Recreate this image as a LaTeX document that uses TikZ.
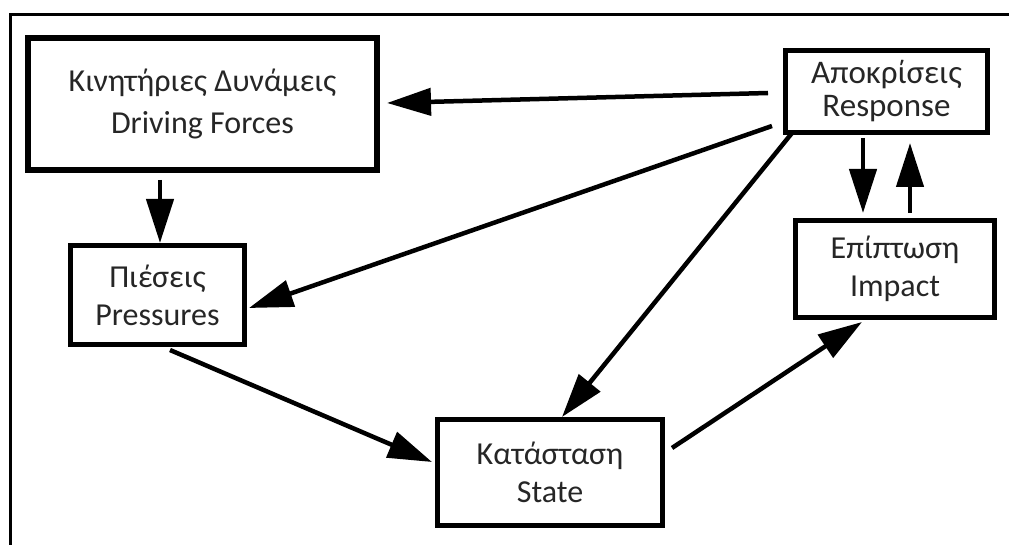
\documentclass[tikz,border=0pt]{standalone}
\usepackage{fontspec}
\setmainfont{Carlito}
\usetikzlibrary{arrows.meta,calc}
\tikzset{
    block/.style={draw=black, line width=5pt, align=center, inner sep=0pt,
                  text=black!85, font=\fontsize{32}{38}\selectfont},
    flow/.style={-{Triangle[length=44pt,width=27pt]}, line width=4.5pt},
}
\begin{document}
\begin{tikzpicture}[x=1pt, y=-1pt]
    \useasboundingbox (0, 0) rectangle (1009, 545);
    \draw [line width=3pt] (10, 560) -- (10, 15) -- (1020, 15);

    \draw (202.5, 104) node
          [block, line width=6pt, minimum width=349pt, minimum height=132pt,
           font=\fontsize{32}{42}\selectfont] (forces)
          {Κινητήριες Δυνάμεις\\ Driving Forces};
    \draw (157.5, 295) node
          [block, minimum width=174pt, minimum height=99pt] (pressures)
          {Πιέσεις\\ Pressures};
    \draw (886.5, 91.5) node
          [block, minimum width=202pt, minimum height=82pt,
           font=\fontsize{33}{33}\selectfont] (response)
          {Αποκρίσεις\\ Response};
    \draw (895, 269) node
          [block, minimum width=199pt, minimum height=97pt] (impact)
          {Επίπτωση\\ Impact};
    \draw (550, 472.5) node
          [block, minimum width=225pt, minimum height=106pt] (state)
          {Κατάσταση\\ State};

    \draw [flow] ($(response.west) + (-15, 1.5)$) -- ($(forces.east) + (7, -1)$);
    \draw [flow] ($(forces.south) + (-42.5, 7)$) -- ($(pressures.north) + (2.5, 0)$);
    \draw [flow] ($(response.south west) + (-11, -9)$) -- ($(pressures.east) + (2, 13)$);
    \draw [flow] ($(response.south west) + (9, -2)$) -- ($(state.north) + (12, 0)$);
    \draw [flow] ($(pressures.south) + (12.5, 3)$) -- ($(state.west) + (-3, -10.5)$);
    \draw [flow] ($(state.east) + (7, -24.5)$) -- ($(impact.south west) + (69, 2)$);
    \draw [flow] ($(response.south) + (-23.5, 3)$) -- ($(impact.north) + (-32, -5)$);
    \draw [flow] ($(impact.north) + (15, -5)$) -- ($(response.south) + (23.5, 8)$);
\end{tikzpicture}
\end{document}
